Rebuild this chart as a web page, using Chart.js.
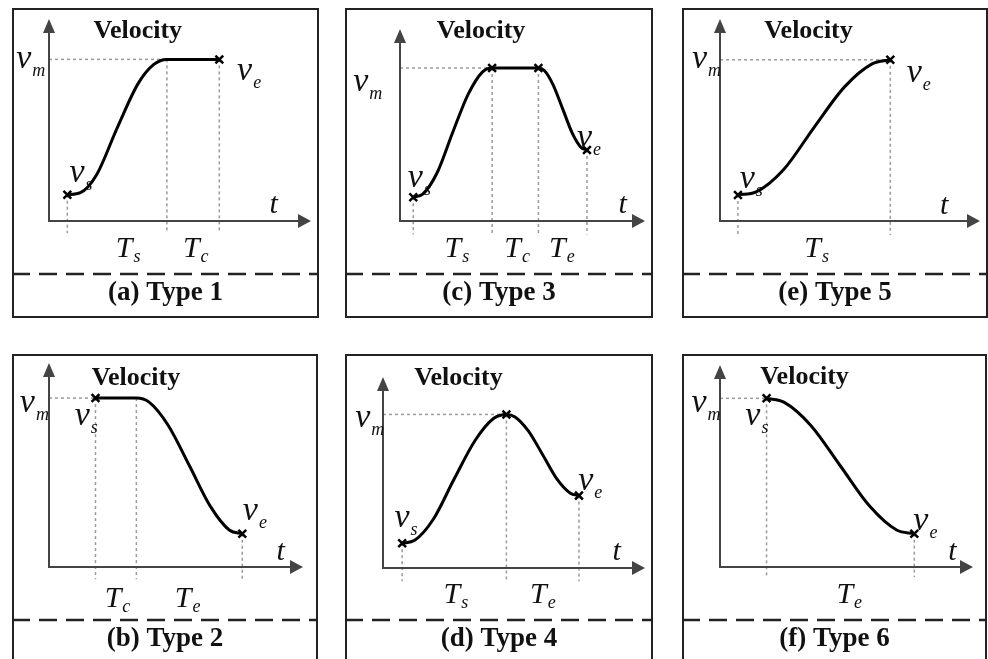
<!DOCTYPE html>
<html>
<head>
<meta charset="utf-8">
<script src="https://cdn.jsdelivr.net/npm/chart.js@4/dist/chart.umd.min.js"></script>
<style>
html, body { margin: 0; padding: 0; background: #fff; }
body { width: 988px; height: 659px; overflow: hidden; position: relative; }
.panel { position: absolute; }
</style>
</head>
<body>
<div class="panel" id="p1" style="left:12px;top:8px;width:307px;height:310px"><canvas id="c1"></canvas></div>
<div class="panel" id="p3" style="left:345px;top:8px;width:308px;height:310px"><canvas id="c3"></canvas></div>
<div class="panel" id="p5" style="left:682px;top:8px;width:306px;height:310px"><canvas id="c5"></canvas></div>
<div class="panel" id="p2" style="left:12px;top:354px;width:306px;height:310px"><canvas id="c2"></canvas></div>
<div class="panel" id="p4" style="left:345px;top:354px;width:308px;height:310px"><canvas id="c4"></canvas></div>
<div class="panel" id="p6" style="left:682px;top:354px;width:305px;height:310px"><canvas id="c6"></canvas></div>
<script>
// Velocity profiles, time t and velocity v in axis units (0..100 along each axis)
const captions = ['(a) Type 1', '(b) Type 2', '(c) Type 3', '(d) Type 4', '(e) Type 5', '(f) Type 6'];

// Type 1: accelerate, then cruise
const t1 = [7, 12, 18, 26, 34, 40, 45, 65];
const v1 = [13, 14, 22.5, 46, 68, 77.5, 80, 80];
const marks1 = [0, 7];
const drops1 = [0, 6, 7];
const phases1 = ['s', 'c'];

// Type 2: cruise, then decelerate
const t2 = [18.3, 34.4, 39.4, 46.9, 55.3, 63.6, 71.1, 76.1];
const v2 = [82.8, 82.8, 80.8, 69.5, 49.6, 29.6, 18, 16.3];
const marks2 = [0, 7];
const drops2 = [0, 1, 7];
const phases2 = ['c', 'e'];

// Type 3: accelerate, cruise, decelerate
const t3 = [5.4, 9.3, 15.1, 21.5, 27.9, 33.7, 37.6, 56.5, 58.9, 62.4, 66.4, 70.4, 73.9, 76.3];
const v3 = [12.4, 14, 25, 46.1, 66.2, 77.7, 79.7, 79.7, 78.4, 71.2, 58.4, 45.5, 38.3, 37];
const marks3 = [0, 6, 7, 13];
const drops3 = [0, 6, 7, 13];
const phases3 = ['s', 'c', 'e'];

// Type 4: accelerate, decelerate
const t4 = [7.3, 12.1, 19.2, 27.2, 35.2, 42.3, 47.1, 50.4, 55.4, 61, 66.5, 71.5, 74.8];
const v4 = [13, 14.5, 25.5, 46.7, 66.9, 78.4, 80.4, 79.1, 71.9, 59.2, 46.4, 39.2, 37.9];
const marks4 = [0, 6, 12];
const drops4 = [0, 6, 12];
const phases4 = ['s', 'e'];

// Type 5: accelerate only
const t5 = [6.9, 13.9, 24.5, 36.2, 47.9, 58.5, 65.5];
const v5 = [12.9, 14.4, 25.5, 46.4, 66.4, 77.8, 79.8];
const marks5 = [0, 6];
const drops5 = [0, 6];
const phases5 = ['s'];

// Type 6: decelerate only
const t6 = [18.4, 25.4, 35.9, 47.6, 59.3, 69.8, 76.8];
const v6 = [83.5, 81.5, 70.1, 50, 29.9, 18.3, 16.5];
const marks6 = [0, 6];
const drops6 = [0, 6];
const phases6 = ['e'];

// layout of each panel: padding of the axes box, where labels sit (axis units)
const layouts = {
  c1: { pad: {left: 37, right: 4, top: 11, bottom: 97}, floor: -6, level: 6,
        title: [17, 90.7], vm: [-12.5, 75.8], vs: [7.8, 19.2], ve: [71.8, 69.9], t: [84.2, 3.8],
        phaseAt: [25.5, 51.1], phaseY: -18 },
  c2: { pad: {left: 37, right: 15, top: 9, bottom: 97}, floor: -6, level: 0,
        title: [16.8, 89.4], vm: [-11.5, 76.1], vs: [10.1, 69.8], ve: [76.3, 23.2], t: [89.6, 3.6],
        phaseAt: [21.9, 49.5], phaseY: -19.5 },
  c3: { pad: {left: 55, right: 6, top: 21, bottom: 97}, floor: -7, level: 6,
        title: [15, 95.5], vm: [-19.1, 67.8], vs: [3.2, 17.7], ve: [72.2, 38.6], t: [89.2, 4.2],
        phaseAt: [18.2, 42.6, 60.8], phaseY: -18.8 },
  c4: { pad: {left: 38, right: 3, top: 23, bottom: 96}, floor: -7, level: 6,
        title: [11.9, 95.8], vm: [-10.6, 73.7], vs: [4.4, 21.6], ve: [74.5, 40.9], t: [87.6, 4.3],
        phaseAt: [23.1, 56.1], phaseY: -18.1 },
  c5: { pad: {left: 38, right: 2, top: 11, bottom: 97}, floor: -7, level: 6,
        title: [17, 90.7], vm: [-10.8, 75.9], vs: [7.6, 16.4], ve: [71.8, 68.9], t: [84.6, 3.5],
        phaseAt: [32.4], phaseY: -17.8 },
  c6: { pad: {left: 38, right: 14, top: 11, bottom: 97}, floor: -5, level: 0,
        title: [15.9, 90.6], vm: [-11.3, 76.8], vs: [10, 70.3], ve: [76.4, 18.4], t: [90.2, 3.6],
        phaseAt: [46], phaseY: -17.9 }
};

const SERIF = '"Liberation Serif", "Times New Roman", serif';

function drawSymbol(ctx, x, y, main, sub) {
  ctx.font = (main === 'v' ? 'italic 34px ' : 'italic 30px ') + SERIF;
  ctx.fillText(main, x, y);
  if (sub) {
    const w = ctx.measureText(main).width;
    ctx.font = 'italic 18px ' + SERIF;
    ctx.fillText(sub, x + w + 1, y + (main === 'T' ? 5 : 8));
  }
}

function makeChart(id, caption, t, v, marks, drops, phases) {
  const lay = layouts[id];
  const curve = t.map((x, i) => ({x: x, y: v[i]}));
  const guideStyle = {
    type: 'line', borderColor: '#9a9a9a', borderWidth: 1.5, borderDash: [3, 3],
    pointRadius: 0, fill: false, clip: false
  };
  const guides = drops.map(i => Object.assign({
    data: [{x: t[i], y: v[i]}, {x: t[i], y: lay.floor}]
  }, guideStyle));
  guides.push(Object.assign({
    data: [{x: 0, y: v[lay.level]}, {x: t[lay.level], y: v[lay.level]}]
  }, guideStyle));

  const frame = {
    id: 'frame',
    beforeDraw(chart) {
      const ctx = chart.ctx, w = chart.width, h = chart.height;
      ctx.save();
      ctx.fillStyle = '#fff';
      ctx.fillRect(0, 0, w, h);
      ctx.strokeStyle = '#222';
      ctx.lineWidth = 2;
      ctx.strokeRect(1, 1, w - 2, h - 2);
      ctx.setLineDash([18, 9]);
      ctx.lineWidth = 2.5;
      ctx.beginPath();
      ctx.moveTo(0, 266);
      ctx.lineTo(w, 266);
      ctx.stroke();
      ctx.setLineDash([]);
      ctx.fillStyle = '#111';
      ctx.font = 'bold 27px ' + SERIF;
      ctx.textAlign = 'center';
      ctx.fillText(caption, w / 2, 292);
      ctx.restore();
    },
    afterDatasetsDraw(chart) {
      const ctx = chart.ctx, a = chart.chartArea;
      ctx.save();
      ctx.strokeStyle = '#444';
      ctx.fillStyle = '#444';
      ctx.lineWidth = 2;
      ctx.beginPath();
      ctx.moveTo(a.left, a.bottom);
      ctx.lineTo(a.left, a.top + 10);
      ctx.moveTo(a.left - 1, a.bottom);
      ctx.lineTo(a.right - 10, a.bottom);
      ctx.stroke();
      ctx.beginPath();
      ctx.moveTo(a.left, a.top);
      ctx.lineTo(a.left - 6, a.top + 14);
      ctx.lineTo(a.left + 6, a.top + 14);
      ctx.closePath();
      ctx.moveTo(a.right, a.bottom);
      ctx.lineTo(a.right - 13, a.bottom - 7);
      ctx.lineTo(a.right - 13, a.bottom + 7);
      ctx.closePath();
      ctx.fill();
      ctx.restore();
    },
    afterDraw(chart) {
      const ctx = chart.ctx, xs = chart.scales.x, ys = chart.scales.y;
      const px = p => [xs.getPixelForValue(p[0]), ys.getPixelForValue(p[1])];
      ctx.save();
      ctx.fillStyle = '#111';
      ctx.textAlign = 'left';
      ctx.textBaseline = 'alphabetic';
      let p = px(lay.title);
      ctx.font = 'bold 26px ' + SERIF;
      ctx.fillText('Velocity', p[0], p[1]);
      p = px(lay.vm); drawSymbol(ctx, p[0], p[1], 'v', 'm');
      p = px(lay.vs); drawSymbol(ctx, p[0], p[1], 'v', 's');
      p = px(lay.ve); drawSymbol(ctx, p[0], p[1], 'v', 'e');
      p = px(lay.t); drawSymbol(ctx, p[0], p[1], 't', '');
      phases.forEach((s, i) => {
        const q = px([lay.phaseAt[i], lay.phaseY]);
        drawSymbol(ctx, q[0], q[1], 'T', s);
      });
      ctx.restore();
    }
  };

  return new Chart(document.getElementById(id), {
    type: 'line',
    data: {
      datasets: [
        {
          data: marks.map(i => curve[i]), showLine: false,
          pointStyle: 'crossRot', pointRadius: 5.5, pointBorderWidth: 2.5,
          pointBorderColor: '#000', borderColor: '#000', clip: false
        },
        {
          data: curve, borderColor: '#000', borderWidth: 3,
          cubicInterpolationMode: 'monotone', pointRadius: 0, fill: false, clip: false
        }
      ].concat(guides)
    },
    options: {
      responsive: true,
      maintainAspectRatio: false,
      devicePixelRatio: 1,
      animation: false,
      events: [],
      layout: { padding: lay.pad },
      plugins: { legend: { display: false }, tooltip: { enabled: false } },
      scales: {
        x: { type: 'linear', min: 0, max: 100, display: false },
        y: { type: 'linear', min: 0, max: 100, display: false }
      }
    },
    plugins: [frame]
  });
}

makeChart('c1', captions[0], t1, v1, marks1, drops1, phases1);
makeChart('c2', captions[1], t2, v2, marks2, drops2, phases2);
makeChart('c3', captions[2], t3, v3, marks3, drops3, phases3);
makeChart('c4', captions[3], t4, v4, marks4, drops4, phases4);
makeChart('c5', captions[4], t5, v5, marks5, drops5, phases5);
makeChart('c6', captions[5], t6, v6, marks6, drops6, phases6);
</script>
</body>
</html>
